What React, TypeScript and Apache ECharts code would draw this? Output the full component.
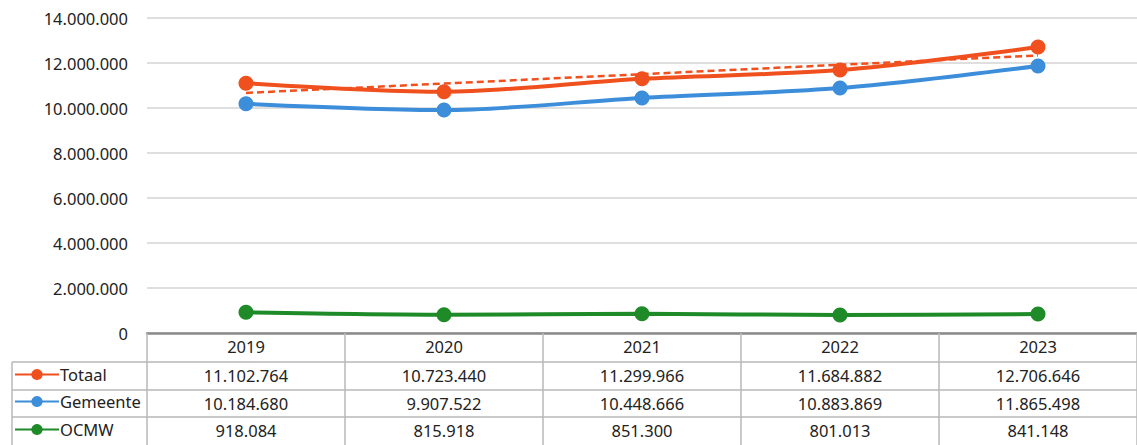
import React, { useEffect, useRef } from "react";
import * as echarts from "echarts";

const years = ["2019", "2020", "2021", "2022", "2023"];
const totaal = [11102764, 10723440, 11299966, 11684882, 12706646];
const gemeente = [10184680, 9907522, 10448666, 10883869, 11865498];
const ocmw = [918084, 815918, 851300, 801013, 841148];
// linear trendline of Totaal
const trendTotaal = [10669700, 11086620, 11503540, 11920460, 12337380];
const legendNames = ["Totaal", "Gemeente", "OCMW"];

const C_TOT = "#F0501E";
const C_GEM = "#3C8EDB";
const C_OCM = "#1E8A28";
const FONT = "Noto Sans";
const FS = 16.5;

const fmt = (n: number) => String(n).replace(/\B(?=(\d{3})+(?!\d))/g, ".");

export default function App() {
  const ref = useRef<HTMLDivElement>(null);
  useEffect(() => {
    if (!ref.current) return;
    const chart = echarts.init(ref.current, undefined, { renderer: "svg" });
    const GRID_LEFT = 147;
    const rowTops = [366, 393, 421];
    const rowAxis = (offset: number, values: number[]) => ({
      type: "category",
      data: years,
      position: "bottom",
      offset,
      boundaryGap: true,
      axisLine: { show: true, lineStyle: { color: "#b8b8b8", width: 1.5 } },
      axisTick: { show: false },
      axisLabel: {
        margin: 5,
        fontFamily: FONT,
        fontSize: FS,
        color: "#222",
        formatter: (_v: string, i: number) => fmt(values[i]),
      },
    });
    chart.setOption({
      animation: false,
      backgroundColor: "#fff",
      textStyle: { fontFamily: FONT },
      grid: { left: GRID_LEFT, right: 0, top: 18, bottom: 112, containLabel: false },
      legend: legendNames.map((name, i) => ({
        orient: "horizontal",
        left: 14,
        top: rowTops[i],
        padding: 0,
        itemWidth: 44,
        itemHeight: 14,
        data: [name],
        textStyle: {
          fontFamily: FONT,
          fontSize: FS,
          color: "#222",
          padding: [0, 0, 0, -4],
        },
      })),
      xAxis: [
        {
          type: "category",
          data: years,
          position: "bottom",
          boundaryGap: true,
          axisLine: { show: true, lineStyle: { color: "#8a8a8a", width: 2.5 } },
          axisTick: { show: true, length: 112, lineStyle: { color: "#b8b8b8", width: 1.5 } },
          axisLabel: { margin: 5, fontFamily: FONT, fontSize: FS, color: "#222" },
        },
        rowAxis(29, totaal),
        rowAxis(57, gemeente),
        rowAxis(84, ocmw),
      ],
      yAxis: {
        type: "value",
        min: 0,
        max: 14000000,
        interval: 2000000,
        axisLine: { show: false },
        axisTick: { show: false },
        splitLine: { lineStyle: { color: "#d4d4d4", width: 1.5 } },
        axisLabel: {
          margin: 19,
          fontFamily: FONT,
          fontSize: FS,
          color: "#222",
          formatter: (v: number) => fmt(v),
        },
      },
      graphic: [
        { type: "line", shape: { x1: 12, y1: 362, x2: GRID_LEFT, y2: 362 }, style: { stroke: "#b8b8b8", lineWidth: 1.5 } },
        { type: "line", shape: { x1: 12, y1: 390, x2: GRID_LEFT, y2: 390 }, style: { stroke: "#b8b8b8", lineWidth: 1.5 } },
        { type: "line", shape: { x1: 12, y1: 417, x2: GRID_LEFT, y2: 417 }, style: { stroke: "#b8b8b8", lineWidth: 1.5 } },
        { type: "line", shape: { x1: 12, y1: 362, x2: 12, y2: 445 }, style: { stroke: "#b8b8b8", lineWidth: 1.5 } },
      ],
      series: [
        {
          name: "OCMW",
          type: "line",
          data: ocmw,
          smooth: 0.3,
          symbol: "circle",
          symbolSize: 15,
          itemStyle: { color: C_OCM },
          lineStyle: { color: C_OCM, width: 4 },
        },
        {
          name: "Gemeente",
          type: "line",
          data: gemeente,
          smooth: 0.3,
          symbol: "circle",
          symbolSize: 15,
          itemStyle: { color: C_GEM },
          lineStyle: { color: C_GEM, width: 4 },
        },
        {
          name: "Totaal",
          type: "line",
          data: totaal,
          smooth: 0.3,
          symbol: "circle",
          symbolSize: 15,
          itemStyle: { color: C_TOT },
          lineStyle: { color: C_TOT, width: 4 },
        },
        {
          name: "Trend Totaal",
          type: "line",
          data: trendTotaal,
          symbol: "none",
          lineStyle: { color: C_TOT, width: 2.5, type: [7, 4] },
          z: 5,
        },
      ],
    });
    return () => chart.dispose();
  }, []);
  return (
    <div
      ref={ref}
      style={{ position: "fixed", left: 0, top: 0, width: 1137, height: 445, background: "#fff" }}
    />
  );
}
